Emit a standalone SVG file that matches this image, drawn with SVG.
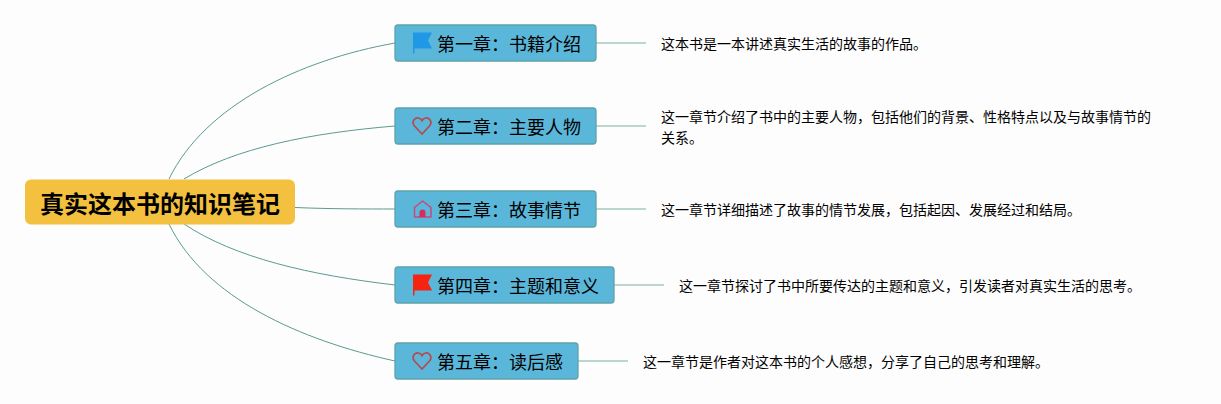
<svg xmlns="http://www.w3.org/2000/svg" width="1221" height="404" viewBox="0 0 1221 404">
<style>
text{font-family:"Noto Sans CJK SC","Noto Sans",sans-serif;fill:#000}
.n{fill:#5bb7da;stroke:#5fa3a8;stroke-width:1.3}
.t{font-size:18px}
.d{font-size:14px}
.c{fill:none;stroke:#5a9a92;stroke-width:1}
.s{fill:none;stroke:#a3cabf;stroke-width:1.6}
.h{fill:none;stroke:#b8484c;stroke-width:1.7}
</style>
<rect width="1221" height="404" fill="#fdfdfd"/>
<g id="connectors">
<path class="c" d="M169 179C205 105 300 60 395 43"/>
<path class="c" d="M184 179C235 148 310 133 395 126"/>
<path class="c" d="M295 207.500C330 209 365 209 395 209"/>
<path class="c" d="M184 224C235 258 310 275 395 285"/>
<path class="c" d="M169 224C205 298 300 340 395 361"/>
<path class="s" d="M596 43H646"/>
<path class="s" d="M596 126H646"/>
<path class="s" d="M596 209H646"/>
<path class="s" d="M614 285H664"/>
<path class="s" d="M578 361H628"/>
</g>
<g id="root"><rect x="25" y="179.500" width="270" height="45" rx="6" fill="#f4c03f"/><text x="160" y="213" text-anchor="middle" font-size="24" font-weight="700">真实这本书的知识笔记</text></g>
<g id="node1"><rect class="n" x="395" y="25" width="201" height="36" rx="3"/><path d="M413 32.500H432L428 40.500L432 48.500H414.500V53.500H413Z" fill="#1f98e6"/><text class="t" x="437" y="51">第一章：书籍介绍</text></g>
<g id="node2"><rect class="n" x="395" y="108" width="201" height="36" rx="3"/><path class="h" d="M422 134L414.500 126C411 121.500 415 117 418.500 118C420 118.300 421.300 119.300 422 120.700C422.700 119.300 424 118.300 425.500 118C429 117 433 121.500 429.500 126Z"/><text class="t" x="437" y="134">第二章：主要人物</text></g>
<g id="node3"><rect class="n" x="395" y="191" width="201" height="36" rx="3"/><path d="M414.500 207.500L422.500 201L431 207.500V217H414.500Z" fill="none" stroke="#c9487c" stroke-width="1.500" stroke-linejoin="round"/><path d="M419.500 217V212.500A2.800 2.800 0 0 1 425.500 212.500V217Z" fill="#d42d5f"/><text class="t" x="437" y="217">第三章：故事情节</text></g>
<g id="node4"><rect class="n" x="395" y="267" width="219" height="36" rx="3"/><path d="M413 274.500H432L428 282.500L432 290.500H414.500V295.500H413Z" fill="#f5230f"/><text class="t" x="437" y="293">第四章：主题和意义</text></g>
<g id="node5"><rect class="n" x="395" y="343" width="183" height="36" rx="3"/><path class="h" d="M422 369L414.500 361C411 356.500 415 352 418.500 353C420 353.300 421.300 354.300 422 355.700C422.700 354.300 424 353.300 425.500 353C429 352 433 356.500 429.500 361Z"/><text class="t" x="437" y="369">第五章：读后感</text></g>
<g id="desc1"><text class="d" x="661" y="49">这本书是一本讲述真实生活的故事的作品。</text></g>
<g id="desc2"><text class="d" x="661" y="122">这一章节介绍了书中的主要人物，包括他们的背景、性格特点以及与故事情节的</text><text class="d" x="661" y="143">关系。</text></g>
<g id="desc3"><text class="d" x="661" y="215">这一章节详细描述了故事的情节发展，包括起因、发展经过和结局。</text></g>
<g id="desc4"><text class="d" x="679" y="291">这一章节探讨了书中所要传达的主题和意义，引发读者对真实生活的思考。</text></g>
<g id="desc5"><text class="d" x="643" y="367">这一章节是作者对这本书的个人感想，分享了自己的思考和理解。</text></g>
</svg>
